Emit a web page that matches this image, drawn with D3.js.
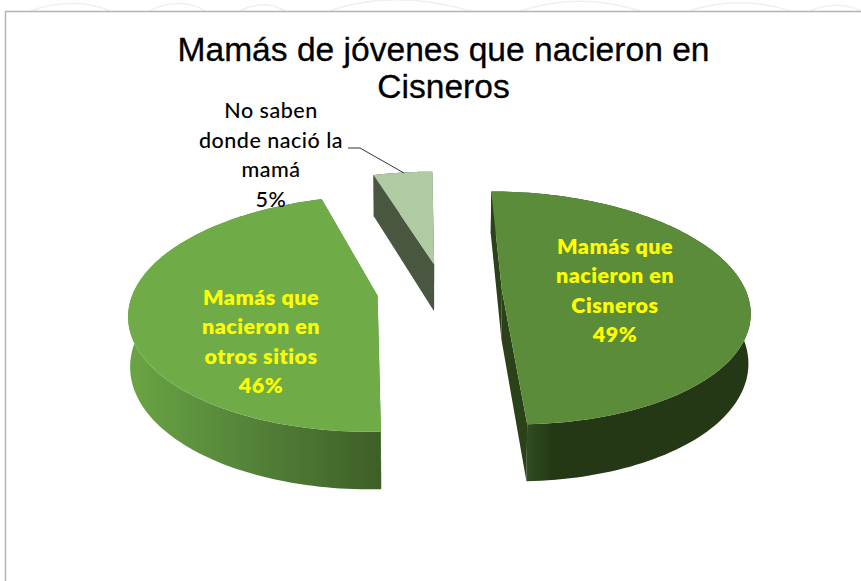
<!DOCTYPE html>
<html><head><meta charset="utf-8">
<script src="https://cdn.jsdelivr.net/npm/d3@7"></script>
<style>html,body{margin:0;padding:0;background:#fff;overflow:hidden}svg{display:block}</style>
</head><body><svg id="c" width="861" height="581"></svg>
<script>
const categories = ["Mamás que nacieron en Cisneros","Mamás que nacieron en otros sitios","No saben donde nació la mamá"];
const values = [49.4,46.0,4.6];
const titleLines = ["Mamás de jóvenes que nacieron en","Cisneros"];
const labelLines = [["Mamás que","nacieron en","Cisneros","49%"],["Mamás que","nacieron en","otros sitios","46%"],["No saben","donde nació la","mamá","5%"]];
const topColors = ["#5b8c39","#6fac47","#b0cba3"];
const cutColors = ["#2a4119","#4d7a30","#4a5740"];
const wallStops = [
  [[0,"#2f4d1e"],[0.12,"#243815"],[1,"#243815"]],
  [[0,"#3e5f27"],[0.55,"#55853a"],[1,"#6aa544"]],
  [[0,"#4a5740"],[1,"#4a5740"]]
];

const svg = d3.select("#c");
const W=861,H=581;
const vx=420, cx=440, cy=291, rx=244, ry=114, k=0.15, depth=48.5, bottomShrink=0.993;
const explode=[61,62,58];
const nudge=[1,-1,3];
const exY=0.48;

svg.append("rect").attr("width",W).attr("height",H).attr("fill","#fff");
const wm=svg.append("g").attr("fill","none").attr("stroke","#f0f0f0").attr("stroke-width",1.5);
["M30,11C60,0 90,2 110,11","M150,11C165,2 190,0 205,11","M240,11C255,3 270,2 285,11","M330,11C370,-4 420,-4 470,11","M520,11C560,-2 600,-2 640,11","M690,11C720,0 760,0 790,11","M810,11C825,4 845,3 861,11"].forEach(d=>wm.append("path").attr("d",d));
svg.append("path").attr("d",`M5.5,${H}V11.5H${W}`).attr("fill","none").attr("stroke","#b4b4b4").attr("stroke-width",1.5);

const pie=d3.pie().sort(null).startAngle(0).endAngle(2*Math.PI);
const arcs=pie(values);
function project(X,Y,down){
  const s=1/(1-k*Y/ry);
  const f=down?bottomShrink:1;
  return [vx+X*s*f, cy+Y*s+(down?depth*s:0)];
}
function pt(i,a,r,down){
  const d=arcs[i], mid=(d.startAngle+d.endAngle)/2;
  const ox=cx-vx+nudge[i]+explode[i]*Math.sin(mid), oy=-explode[i]*Math.cos(mid)*exY;
  return project(ox+rx*r*Math.sin(a), oy-ry*r*Math.cos(a), down);
}
const defs=svg.append("defs");
const line=d3.line();
const gLayer=svg.append("g");
[2,1,0].forEach(i=>{
  const d=arcs[i];
  const n=d3.range(0,121).map(t=>d.startAngle+(d.endAngle-d.startAngle)*t/120);
  const arcTop=n.map(a=>pt(i,a,1,false)), arcBot=n.map(a=>pt(i,a,1,true));
  const xs=arcTop.map(p=>p[0]);
  const g=defs.append("linearGradient").attr("id","w"+i).attr("gradientUnits","userSpaceOnUse")
    .attr("x1",i==0?xs[120]:xs[0]).attr("x2",i==0?d3.max(xs):d3.min(xs)).attr("y1",0).attr("y2",0);
  wallStops[i].forEach(s=>g.append("stop").attr("offset",s[0]).attr("stop-color",s[1]));
  gLayer.append("path").attr("d",line(arcTop.concat(arcBot.slice().reverse()))+"Z").attr("fill",`url(#w${i})`);
  const ap=pt(i,0,0,false), apB=pt(i,0,0,true);
  [d.startAngle,d.endAngle].forEach(a=>{
    gLayer.append("path").attr("d",line([ap,pt(i,a,1,false),pt(i,a,1,true),apB])+"Z").attr("fill",cutColors[i]);
  });
  gLayer.append("path").attr("d",line([ap].concat(arcTop))+"Z").attr("fill",topColors[i]);
});

const tf="'Liberation Sans',Arial,sans-serif";
svg.append("g").selectAll("text").data(titleLines).join("text")
  .attr("x",443.5).attr("y",(d,i)=>61+i*37).attr("text-anchor","middle")
  .attr("font-family",tf).attr("font-size",33.6).attr("fill","#000").attr("stroke","#000").attr("stroke-width",0.3).text(d=>d);

const lf="Lato,'Open Sans',sans-serif";
const labelPos=[[615,254,29.3],[261,305,29.3],[271,118,29.5]];
labelLines.forEach((ls,i)=>{
  svg.append("g").selectAll("text").data(ls).join("text")
    .attr("x",labelPos[i][0]).attr("y",(d,j)=>labelPos[i][1]+j*labelPos[i][2]).attr("text-anchor","middle")
    .attr("font-family",lf).attr("font-size",21.5).attr("letter-spacing",0.5).attr("font-weight",i==2?500:800)
    .attr("fill",i==2?"#000":"#ffff00").text(d=>d);
});
svg.append("path").attr("d",line([[348,148],[360,148],[404,173]])).attr("fill","none").attr("stroke","#333").attr("stroke-width",1);
</script></body></html>
